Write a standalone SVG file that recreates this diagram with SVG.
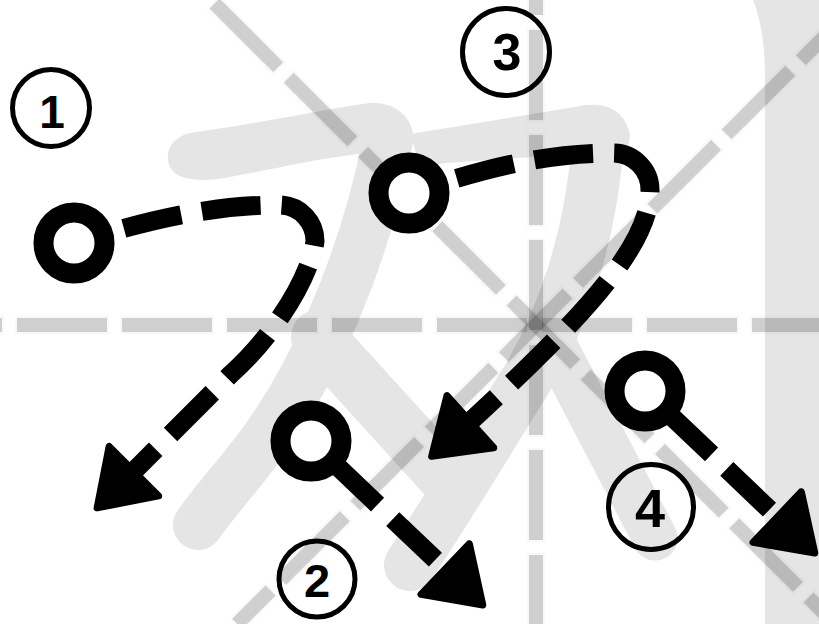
<svg xmlns="http://www.w3.org/2000/svg" width="819" height="624" viewBox="0 0 819 624">
<style>
.grid{fill:none;stroke:#000;stroke-opacity:.17;stroke-width:14;stroke-dasharray:90 15}
.halo{fill:none;stroke:#000;stroke-opacity:.025;stroke-width:19;stroke-dasharray:94 11}
.chf{fill:#e5e5e5}
.chs{fill:none;stroke:#e5e5e5;stroke-linecap:round}
.trace{fill:none;stroke:#000;stroke-width:19;stroke-dasharray:59 21;marker-end:url(#ah)}
.ring{fill:#fff;stroke:#000;stroke-width:20}
.lbl circle{fill:none;stroke:#000;stroke-width:5}
.lbl text{font-family:"Liberation Sans",Arial,sans-serif;font-weight:bold;text-anchor:middle;fill:#000}
</style>
<defs>
<marker id="ah" markerUnits="userSpaceOnUse" orient="auto" markerWidth="100" markerHeight="100" viewBox="-50 -50 100 100" refX="0" refY="0" overflow="visible">
<path d="M26,0 L-26,-35 L-26,35 Z" fill="#000" stroke="#000" stroke-width="7" stroke-linejoin="round"/>
</marker>
</defs>
<rect width="819" height="624" fill="#fff"/>
<g id="character">
<path class="chf" d="M172,170 C163,158 168,138 190,133 C250,125 310,112 362,104 C390,99 408,112 413,132 L400,148 L350,155 C300,162 260,172 225,178 C200,182 180,180 172,170 Z"/>
<path class="chf" d="M410,134 L575,107 C605,100 625,110 630,135 L628,150 L600,152 L420,165 Z"/>
<path class="chs" stroke-width="50" d="M388,140 C372,220 345,300 305,375 C265,450 230,480 198,525"/>
<path class="chs" stroke-width="54" stroke-linecap="butt" d="M318,337 L446,478"/>
<path class="chs" stroke-width="52" d="M598,140 C592,230 565,320 520,390 C480,455 440,520 410,565"/>
<path class="chs" stroke-width="45" d="M548,333 L655,538"/>
<path class="chf" d="M753,0 C761,20 765,45 765,80 L765,624 L819,624 L819,0 Z"/>
</g>
<g id="grid">
<line class="halo" x1="0" y1="325" x2="819" y2="325" stroke-dashoffset="90"/>
<line class="halo" x1="536" y1="0" x2="536" y2="624" stroke-dashoffset="77"/>
<line class="halo" x1="211" y1="0" x2="835" y2="624" stroke-dashoffset="102"/>
<line class="halo" x1="861" y1="0" x2="237" y2="624" stroke-dashoffset="7"/>
<line class="grid" x1="0" y1="325" x2="819" y2="325" stroke-dashoffset="88"/>
<line class="grid" x1="536" y1="0" x2="536" y2="624" stroke-dashoffset="75"/>
<line class="grid" x1="211" y1="0" x2="835" y2="624" stroke-dashoffset="100"/>
<line class="grid" x1="861" y1="0" x2="237" y2="624" stroke-dashoffset="5"/>
</g>
<g id="connectors">
<path class="trace" stroke-dashoffset="28" d="M74,243 C130,226 200,205 279,205 A36,36 0 0 1 315,241 C312,270 280,330 230.5,374.5 L115.5,489.5"/>
<path class="trace" stroke-dashoffset="47" d="M311,441 L464,587"/>
<path class="trace" stroke-dashoffset="30" d="M409,193 C465,176 530,153 613,153 A37,37 0 0 1 650,190 C650,235 605,290 545,350 Q500,395 451,439"/>
<path class="trace" stroke-dashoffset="47" d="M645,391 L796,535"/>
</g>
<g id="stroke1-start"><circle class="ring" cx="74" cy="243" r="30.5"/></g>
<g id="stroke2-start"><circle class="ring" cx="311" cy="441" r="30.5"/></g>
<g id="stroke3-start"><circle class="ring" cx="409" cy="193" r="30.5"/></g>
<g id="stroke4-start"><circle class="ring" cx="645" cy="391" r="30.5"/></g>
<g id="label1" class="lbl"><circle cx="51" cy="108" r="38.5"/><text x="52" y="128" font-size="46">1</text></g>
<g id="label2" class="lbl"><circle cx="317" cy="579" r="38"/><text x="317" y="597" font-size="47">2</text></g>
<g id="label3" class="lbl"><circle cx="506" cy="52" r="43.5"/><text x="507" y="70" font-size="52">3</text></g>
<g id="label4" class="lbl"><circle cx="651" cy="507" r="42.5"/><text x="650" y="527" font-size="54">4</text></g>
</svg>
